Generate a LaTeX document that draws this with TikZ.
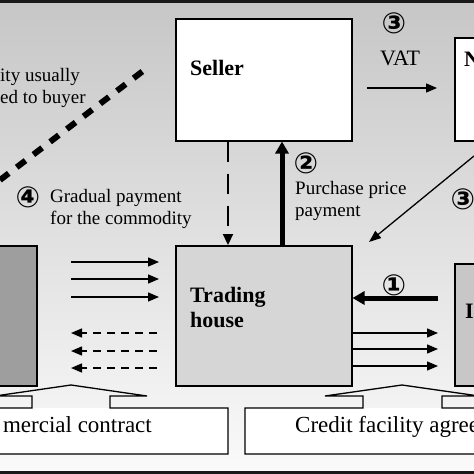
\documentclass[tikz,border=0pt]{standalone}
\usepackage{fontspec}
\setmainfont{Liberation Serif}
\newfontfamily\circfont{DejaVu Sans}
\usetikzlibrary{arrows.meta}
\begin{document}
\begin{tikzpicture}[x=1pt,y=-1pt,
  box/.style={draw=black, line width=1.5pt, inner sep=0pt, anchor=north west},
  lbl/.style={font=\fontsize{19}{22}\selectfont, inner sep=0pt, anchor=base west, align=left},
  blbl/.style={font=\fontsize{22}{25}\selectfont\bfseries, inner sep=0pt, anchor=base west, align=left},
  biglbl/.style={font=\fontsize{23}{26}\selectfont, inner sep=0pt},
  circ/.style={font=\circfont\bfseries\fontsize{29}{29}\selectfont, inner sep=0pt},
  thinarrow/.style={line width=1.4pt, -{Triangle[length=11pt,width=9pt]}},
  dasharrow/.style={line width=1.4pt, dash pattern=on 8pt off 6pt, -{Triangle[length=11pt,width=9pt]}},
  thickarrow/.style={line width=5pt, -{Triangle[length=12pt,width=13pt]}},
  callout/.style={line width=1.3pt, line join=miter}
]
\useasboundingbox (0,0) rectangle (474,474);
\clip (0,0) rectangle (474,474);
% background
\shade[top color=black!22, bottom color=black!2] (0,3) rectangle (474,471);
\fill[black!90] (0,0) rectangle (474,3.2);
\fill[black!90] (0,470.8) rectangle (474,474);

% boxes
\node[box, fill=white, minimum width=176pt, minimum height=122pt] (seller) at (175,18) {};
\node[box, fill=black!16, minimum width=176pt, minimum height=140pt] (th) at (175,245) {};
\node[box, fill=black!38, minimum width=60pt, minimum height=140pt] (buyer) at (-24,245) {};
\node[box, fill=white, minimum width=60pt, minimum height=103pt] (tax) at (454,37) {};
\node[box, fill=black!22, minimum width=60pt, minimum height=122pt] (bank) at (454,263) {};

% box labels
\node[blbl] (sellerlbl) at (190,75) {Seller};
\node[blbl] (thlbl) at (190,327) {Trading\\house};
\node[blbl] (taxlbl) at (464,66) {N};
\node[blbl] (banklbl) at (465,318) {I};

% text labels
\node[lbl] (commlbl) at (0,103) {ity usually\\ed to buyer};
\node[lbl] (gradlbl) at (50,224) {Gradual payment\\for the commodity};
\node[lbl] (pplbl) at (295,216) {Purchase price\\payment};
\node[font=\fontsize{22}{26}\selectfont, inner sep=0pt, anchor=base] (vatlbl) at (400,65) {VAT};

% circled numbers
\node[circ] (c3a) at (394,23) {③};
\node[circ] (c2) at (306,163) {②};
\node[circ] (c3b) at (463,199) {③};
\node[circ] (c4) at (28,197) {④};
\node[circ] (c1) at (394,285) {①};

% commodity transfer dotted line
\coordinate (d1) at (0,180);
\coordinate (d2) at (143,71);
\draw[line width=6pt, dash pattern=on 11pt off 10pt] (d1) -- (d2);

% seller <-> trading house
\draw[line width=2.2pt, dash pattern=on 20pt off 12pt, -{Triangle[length=11pt,width=10pt]}] (seller.south -| 228,0) -- (th.north -| 228,0);
\draw[thickarrow] (th.north -| 282,0) -- (seller.south -| 282,0);

% VAT arrow
\coordinate (v1) at (367,88);
\coordinate (v2) at (437,88);
\draw[thinarrow] (v1) -- (v2);

% VAT refund arrow
\coordinate (r1) at (474,156);
\draw[line width=1.3pt, -{Triangle[length=12pt,width=9pt]}] (r1) -- (369,242);

% buyer <-> trading house arrows
\foreach \yy [count=\i] in {262,279,297}{
  \coordinate (bl\i) at (71,\yy);
  \coordinate (br\i) at (159,\yy);
  \draw[thinarrow] (bl\i) -- (br\i);
}
\foreach \yy [count=\i] in {333,351,368}{
  \coordinate (dl\i) at (71,\yy);
  \coordinate (dr\i) at (157,\yy);
  \draw[dasharrow] (dr\i) -- (dl\i);
}

% trading house -> bank arrows
\foreach \yy [count=\i] in {333,349,366}{
  \coordinate (ar\i) at (438,\yy);
  \draw[thinarrow] (th.east |- 0,\yy) -- (ar\i);
}
\coordinate (k1) at (438,298);
\draw[thickarrow] (k1) -- (th.east |- 0,298);

% callouts
\fill[white] (-10,408) rectangle (228,454);
\draw[callout] (-10,408) -- (32,408) -- (32,396) -- (-5,396) -- (71,385) -- (147,396) -- (110,396) -- (110,408) -- (228,408) -- (228,454) -- (-10,454);
\fill[white] (245,408) rectangle (490,454);
\draw[callout] (490,408) -- (442,408) -- (442,396) -- (479,396) -- (402,385) -- (325,396) -- (363,396) -- (363,408) -- (245,408) -- (245,454) -- (490,454);
\node[biglbl, anchor=base east] (cclbl) at (152,432) {mercial contract};
\node[biglbl, anchor=base west] (cflbl) at (295,432) {Credit facility agree};
\end{tikzpicture}
\end{document}
